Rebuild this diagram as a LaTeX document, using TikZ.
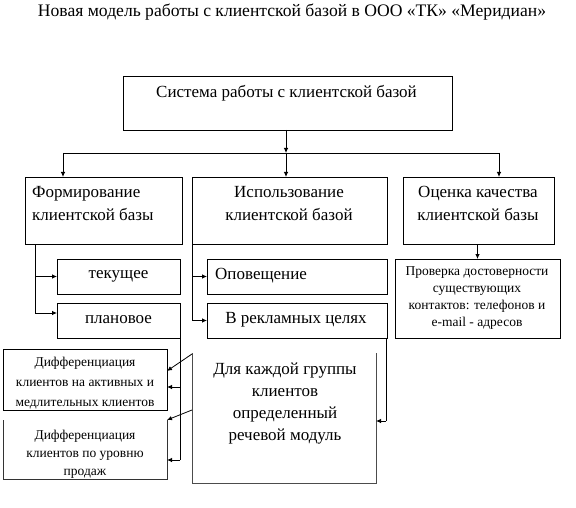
\documentclass[tikz,border=0pt]{standalone}
\usepackage{fontspec}
\setmainfont{Liberation Serif}
\usetikzlibrary{arrows.meta,calc}
\begin{document}
\begin{tikzpicture}[x=1pt,y=-1pt,
  box/.style={draw,line width=0.8pt,inner sep=0pt,outer sep=0pt},
  openbox/.style={inner sep=0pt,outer sep=0pt},
  conn/.style={line width=0.8pt},
  arr/.style={line width=0.8pt,-{Latex[length=5pt,width=4.5pt]}},
  big/.style={font=\fontsize{17}{23}\selectfont,inner sep=0pt},
  small/.style={font=\fontsize{13.5}{18}\selectfont,inner sep=0pt}]
\useasboundingbox (0,0) rectangle (576,508);
\fill[white] (0,0) rectangle (576,508);

% title
\node[big,font=\fontsize{17.6}{23}\selectfont] (title) at (292,12) {Новая модель работы с клиентской базой в ООО «ТК» «Меридиан»};

% boxes
\node[box,minimum width=329pt,minimum height=54pt] (T) at (287.5,103) {};
\node[box,minimum width=157pt,minimum height=67pt] (A) at (103.5,210.5) {};
\node[box,minimum width=195pt,minimum height=67pt] (B) at (289.5,210.5) {};
\node[box,minimum width=151pt,minimum height=67pt] (C) at (478.5,210.5) {};
\node[box,minimum width=165pt,minimum height=79pt] (D) at (477.5,298.5) {};
\node[box,minimum width=123pt,minimum height=35pt] (E) at (118.5,276.5) {};
\node[box,minimum width=123pt,minimum height=35pt] (F) at (118.5,320.5) {};
\node[box,minimum width=180pt,minimum height=35pt] (G) at (297,276.5) {};
\node[box,minimum width=180pt,minimum height=35pt] (H) at (297,320.5) {};
\node[openbox,minimum width=184pt,minimum height=130pt] (I) at (284,418) {};
\node[box,minimum width=164pt,minimum height=61pt] (J) at (85,379.5) {};
\node[openbox,minimum width=164pt,minimum height=59pt] (K) at (85,449.5) {};
\draw[line width=0.8pt,black!70] (I.north west) -- (I.south west) -- (I.south east) -- (I.north east);
\draw[line width=0.8pt,black!80] (K.north west) -- (K.south west) -- (K.south east) -- (K.north east);

% texts
\node[big] (tT) at (286.5,93) {Система работы с клиентской базой};
\node[big,align=left,anchor=west] (tA) at (32,203.5) {Формирование\\клиентской базы};
\node[big,align=center] (tB) at (289,203.5) {Использование\\клиентской базой};
\node[big,align=center] (tC) at (478,203.5) {Оценка качества\\клиентской базы};
\node[small,align=center,font=\fontsize{13.5}{17}\selectfont] (tD) at (477,298.5) {Проверка достоверности\\существующих\\контактов: телефонов и\\e-mail - адресов};
\node[big] (tE) at (118.5,276) {текущее};
\node[big] (tF) at (118.5,320) {плановое};
\node[big,anchor=west] (tG) at (215,276) {Оповещение};
\node[big] (tH) at (296,320) {В рекламных целях};
\node[big,align=center,font=\fontsize{17}{22.3}\selectfont] (tI) at (285,403.5) {Для каждой группы\\клиентов\\определенный\\речевой модуль};
\node[small,align=center,font=\fontsize{13.5}{20}\selectfont] (tJ) at (85,383) {Дифференциация\\клиентов на активных и\\медлительных клиентов};
\node[small,align=center,font=\fontsize{13.5}{18}\selectfont] (tK) at (85,454) {Дифференциация\\клиентов по уровню\\продаж};

% top connectors
\coordinate (jA) at (63,153);
\coordinate (jM) at (286,153);
\coordinate (jC) at (499,153);
\draw[arr] (T.south -| jM) -- (jM);
\draw[conn] (jA) -- (jC);
\draw[arr] (jA) -- (jA |- A.north);
\draw[arr] (jM) -- (jM |- B.north);
\draw[arr] (jC) -- (jC |- C.north);
\draw[arr] (C.south -| D.north) -- (D.north);

% left branch
\coordinate (la) at ($(A.south west)+(10,0)$);
\coordinate (lb) at ($(F.north west)+(0,10)$);
\draw[conn] (la) -- (la |- lb);
\draw[arr] (la |- E.west) -- (E.west);
\draw[arr] (la |- lb) -- (lb);

% middle branch
\draw[conn] (B.south west) -- (B.south west |- H.west);
\draw[arr] (B.south west |- G.west) -- (G.west);
\draw[arr] (B.south west |- H.west) -- (H.west);

% H -> I
\coordinate (hr) at ($(H.south east)+(-1,0)$);
\coordinate (ir) at ($(I.east)+(0,3)$);
\draw[conn] (hr) -- (hr |- ir);
\draw[arr] (hr |- ir) -- (ir);

% F -> J, K
\coordinate (jr) at ($(J.east)+(0,7.5)$);
\coordinate (kr) at ($(K.east)+(0,10.5)$);
\draw[conn] (F.south east) -- (F.south east |- kr);
\draw[arr] (F.south east |- jr) -- (jr);
\draw[arr] (F.south east |- kr) -- (kr);

% diagonals from I
\coordinate (j2) at ($(J.north east)+(0,22)$);
\draw[arr] ($(I.north west)+(0,1)$) -- (j2);
\draw[arr] ($(I.north west)+(0,57)$) -- (K.north east);
\end{tikzpicture}
\end{document}
